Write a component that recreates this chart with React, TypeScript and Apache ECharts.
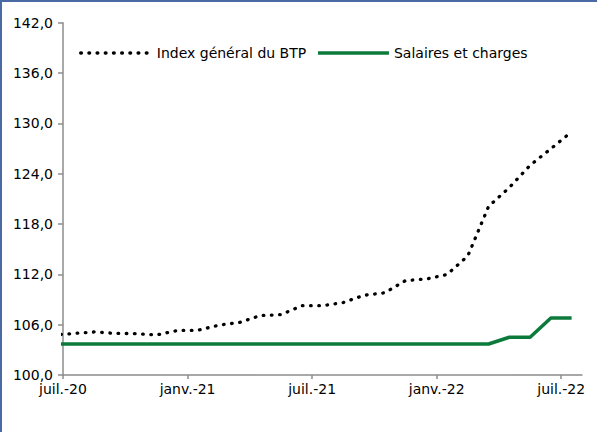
import React, { useEffect, useRef } from "react";
import * as echarts from "echarts";

// Months (mid-month points), juin-20 .. juil.-22
const months = [
  "juin-20", "juil.-20", "août-20", "sept.-20", "oct.-20", "nov.-20", "déc.-20",
  "janv.-21", "févr.-21", "mars-21", "avr.-21", "mai-21", "juin-21", "juil.-21",
  "août-21", "sept.-21", "oct.-21", "nov.-21", "déc.-21", "janv.-22", "févr.-22",
  "mars-22", "avr.-22", "mai-22", "juin-22", "juil.-22",
];
const indexBTP = [
  104.75, 104.95, 105.13, 104.97, 104.93, 104.77, 105.3, 105.33, 105.94, 106.26,
  107.08, 107.2, 108.26, 108.26, 108.64, 109.5, 109.8, 111.26, 111.44, 111.98,
  114.2, 120.1, 122.35, 125.0, 126.97, 129.0,
];
const salaires = [
  103.7, 103.7, 103.7, 103.7, 103.7, 103.7, 103.7, 103.7, 103.7, 103.7,
  103.7, 103.7, 103.7, 103.7, 103.7, 103.7, 103.7, 103.7, 103.7, 103.7,
  103.7, 103.7, 104.5, 104.5, 106.8, 106.8,
];
const tickLabels = ["juil.-20", "janv.-21", "juil.-21", "janv.-22", "juil.-22"];
const tickValues = [0, 6, 12, 18, 24];
const seriesNames = ["Index général du BTP", "Salaires et charges"];

const FONT = "'DejaVu Sans', Verdana, sans-serif";

export default function App() {
  const ref = useRef<HTMLDivElement>(null);
  useEffect(() => {
    if (!ref.current) return;
    const chart = echarts.init(ref.current, null, { renderer: "svg" });
    const toPairs = (arr: number[]) => arr.map((v, i) => [i - 0.5, v]);
    chart.setOption({
      animation: false,
      textStyle: { fontFamily: FONT },
      grid: { left: 63, right: 15, top: 22.7, bottom: 57 },
      legend: {
        left: 74,
        top: 41,
        itemWidth: 71,
        itemHeight: 14,
        itemGap: 10,
        itemStyle: { opacity: 0 },
        lineStyle: { width: 3.5 },
        textStyle: { fontFamily: FONT, fontSize: 14, color: "#000" },
        data: seriesNames,
      },
      xAxis: {
        type: "value",
        min: 0,
        max: 25,
        splitLine: { show: false },
        axisLine: { show: true, lineStyle: { color: "#8c8c8c", width: 1.5 } },
        axisTick: {
          show: true,
          customValues: tickValues,
          length: 4,
          lineStyle: { color: "#8c8c8c", width: 1.5 },
        },
        axisLabel: {
          customValues: tickValues,
          formatter: (v: number) => tickLabels[tickValues.indexOf(v)] ?? "",
          fontFamily: FONT,
          fontSize: 14,
          color: "#000",
          margin: 7,
        },
      },
      yAxis: {
        type: "value",
        min: 100,
        max: 142,
        interval: 6,
        splitLine: { show: false },
        axisLine: { show: true, lineStyle: { color: "#8c8c8c", width: 1.5 } },
        axisTick: { show: true, length: 5, lineStyle: { color: "#8c8c8c", width: 1.5 } },
        axisLabel: {
          formatter: (v: number) => v.toFixed(1).replace(".", ","),
          fontFamily: FONT,
          fontSize: 14,
          color: "#000",
          margin: 10,
        },
      },
      series: [
        {
          name: seriesNames[0],
          type: "line",
          data: toPairs(indexBTP),
          symbol: "none",
          clip: true,
          lineStyle: { color: "#000", width: 3.3, type: [0.6, 7.6], cap: "round" },
          itemStyle: { color: "#000" },
        },
        {
          name: seriesNames[1],
          type: "line",
          data: toPairs(salaires),
          symbol: "none",
          clip: true,
          lineStyle: { color: "#0b7a3a", width: 3.5 },
          itemStyle: { color: "#0b7a3a" },
        },
      ],
    });
    return () => chart.dispose();
  }, []);
  return (
    <div
      style={{
        position: "fixed",
        left: 0,
        top: 0,
        width: 597,
        height: 432,
        background: "#fff",
        boxSizing: "border-box",
        borderTop: "2px solid #4a6aa6",
        borderLeft: "2px solid #4a6aa6",
      }}
    >
      <div ref={ref} style={{ position: "absolute", left: -2, top: -2, width: 597, height: 432 }} />
    </div>
  );
}
